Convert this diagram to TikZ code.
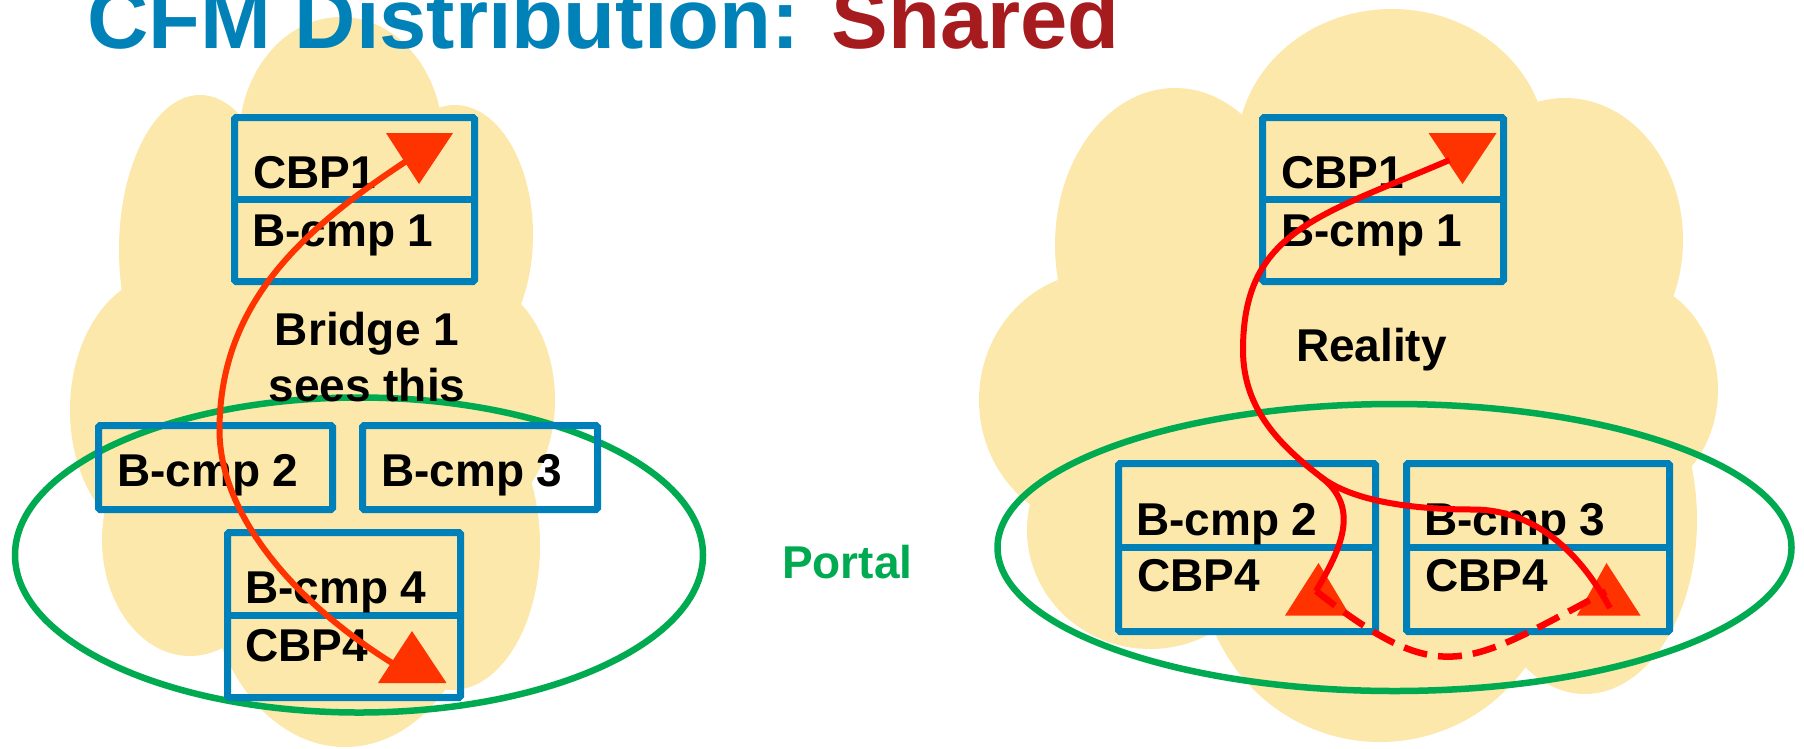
\documentclass[tikz,border=0pt]{standalone}
\usepackage{fontspec}
\setmainfont{Liberation Sans}
\usepackage{tikz}
\definecolor{cloudy}{RGB}{252, 232, 170}
\definecolor{boxblue}{RGB}{0, 128, 185}
\definecolor{titleblue}{RGB}{0, 130, 185}
\definecolor{titlered}{RGB}{166, 27, 30}
\definecolor{portalgreen}{RGB}{0, 170, 80}
\definecolor{triorange}{RGB}{255, 51, 0}
\definecolor{pathred}{RGB}{255, 0, 0}
\usetikzlibrary{shapes.geometric}

\begin{document}
\begin{tikzpicture}[every node/.style={inner sep=0pt, outer sep=0pt},
  cloudpart/.style={fill=cloudy},
  bx/.style={rectangle, draw=boxblue, line width=7pt, rounded corners=1.5pt},
  divider/.style={draw=boxblue, line width=7pt},
  lbl/.style={anchor=base west, font=\fontsize{46}{56}\selectfont\bfseries},
  portal/.style={ellipse, draw=portalgreen, line width=6.5pt},
  tri/.style={fill=triorange},
  orline/.style={draw=triorange, line width=6pt},
  redline/.style={draw=pathred, line width=6pt}]
\useasboundingbox (0pt, 0pt) rectangle (1804pt, -748pt);
\clip (0pt, 0pt) rectangle (1804pt, -748pt);
% left cloud
\fill[cloudpart] (341pt, -140pt) ellipse (102pt and 123pt);
\fill[cloudpart] (200pt, -250pt) ellipse (81pt and 155pt);
\fill[cloudpart] (165pt, -410pt) ellipse (95pt and 135pt);
\fill[cloudpart] (190pt, -540pt) ellipse (88pt and 116pt);
\fill[cloudpart] (345pt, -557pt) ellipse (140pt and 190pt);
\fill[cloudpart] (452pt, -545pt) ellipse (88pt and 145pt);
\fill[cloudpart] (470pt, -400pt) ellipse (85pt and 120pt);
\fill[cloudpart] (455pt, -235pt) ellipse (78pt and 130pt);
\fill[cloudpart] (200pt, -150pt) rectangle (470pt, -620pt);
% right cloud
\fill[cloudpart] (1392pt, -150pt) ellipse (155pt and 141pt);
\fill[cloudpart] (1175pt, -245pt) ellipse (120pt and 157pt);
\fill[cloudpart] (1100pt, -400pt) ellipse (121pt and 128pt);
\fill[cloudpart] (1150pt, -530pt) ellipse (123pt and 119pt);
\fill[cloudpart] (1380pt, -560pt) ellipse (180pt and 182pt);
\fill[cloudpart] (1585pt, -520pt) ellipse (112pt and 174pt);
\fill[cloudpart] (1620pt, -390pt) ellipse (98pt and 112pt);
\fill[cloudpart] (1565pt, -240pt) ellipse (118pt and 142pt);
\fill[cloudpart] (1150pt, -150pt) rectangle (1650pt, -620pt);
% title
\node (title) [anchor=base west, font=\fontsize{85}{100}\selectfont\bfseries] at (87pt, -48pt) {\textcolor{titleblue}{CFM Distribution:} \textcolor{titlered}{Shared}};
% portals
\node (portalL) [portal, minimum width=688pt, minimum height=315pt] at (359pt, -555pt) {};
\node (portalR) [portal, minimum width=794pt, minimum height=287pt] at (1394.5pt, -547.5pt) {};
\node (portal) [lbl, text=portalgreen] at (782pt, -578pt) {Portal};
% bridge 1 view
\node (cbl1) [bx, minimum width=240pt, minimum height=164pt] at (354.5pt, -199.5pt) {};
\node (cbl2) [bx, minimum width=234pt, minimum height=84pt] at (215.5pt, -467.5pt) {};
\node (cbl3) [bx, minimum width=235pt, minimum height=84pt] at (480pt, -467.5pt) {};
\node (cbl4) [bx, minimum width=233pt, minimum height=165pt] at (344pt, -615pt) {};
\draw[divider] (cbl1.west) -- (cbl1.east);
\draw[divider] (cbl4.west) -- (cbl4.east);
\node (tl1) [lbl] at (253pt, -188pt) {CBP1};
\node (tl2) [lbl] at (252pt, -246pt) {B-cmp 1};
\node (bridge) [anchor=base, align=center, font=\fontsize{46}{56}\selectfont\bfseries] at (367pt, -401pt) {Bridge 1\\sees this};
\node (tl3) [lbl] at (117pt, -486pt) {B-cmp 2};
\node (tl4) [lbl] at (381pt, -486pt) {B-cmp 3};
\node (tl5) [lbl] at (245pt, -603.5pt) {B-cmp 4};
\node (tl6) [lbl] at (245pt, -661pt) {CBP4};
% reality
\node (cbr1) [bx, minimum width=241pt, minimum height=164pt] at (1383pt, -199.5pt) {};
\node (cbr2) [bx, minimum width=257pt, minimum height=168pt] at (1247pt, -547.5pt) {};
\node (cbr3) [bx, minimum width=263pt, minimum height=168pt] at (1538pt, -547.5pt) {};
\draw[divider] (cbr1.west) -- (cbr1.east);
\draw[divider] (cbr2.west) -- (cbr2.east);
\draw[divider] (cbr3.west) -- (cbr3.east);
\node (tr1) [lbl] at (1281pt, -188pt) {CBP1};
\node (tr2) [lbl] at (1281pt, -246pt) {B-cmp 1};
\node (reality) [lbl] at (1296pt, -361pt) {Reality};
\node (tr3) [lbl] at (1136pt, -535pt) {B-cmp 2};
\node (tr4) [lbl] at (1137pt, -591.5pt) {CBP4};
\node (tr5) [lbl] at (1424pt, -535pt) {B-cmp 3};
\node (tr6) [lbl] at (1425pt, -591.5pt) {CBP4};
% triangles
\fill[tri] (386pt, -133pt) -- (453pt, -133pt) -- (419pt, -184pt) -- cycle;
\fill[tri] (378pt, -683pt) -- (446.5pt, -683pt) -- (412pt, -631pt) -- cycle;
\fill[tri] (1428.5pt, -133pt) -- (1496.5pt, -133pt) -- (1462.5pt, -184pt) -- cycle;
\fill[tri] (1285pt, -615.5pt) -- (1350pt, -615.5pt) -- (1318.5pt, -563pt) -- cycle;
\fill[tri] (1577pt, -615.5pt) -- (1640.5pt, -615.5pt) -- (1606.5pt, -563pt) -- cycle;
% paths
\coordinate (sL) at (408pt, -160pt);
\coordinate (mL) at (219.5pt, -430pt);
\coordinate (eL) at (397pt, -666pt);
\draw[orline] (sL) .. controls +(213.4:120pt) and +(90:130pt) .. (mL) .. controls +(270:85pt) and +(148.6:120pt) .. (eL);
\coordinate (sR) at (1449.5pt, -160pt);
\coordinate (lR) at (1243pt, -350pt);
\coordinate (jR) at (1321pt, -477pt);
\coordinate (hR) at (1473pt, -509.5pt);
\coordinate (eR3) at (1610pt, -608pt);
\coordinate (eR2) at (1316pt, -591pt);
\coordinate (dR3) at (1606pt, -591.5pt);
\draw[redline] (sR) .. controls +(203.3:140pt) and +(90:120pt) .. (lR) .. controls +(270:60pt) and +(142.3:50pt) .. (jR) .. controls +(-37.7:40pt) and +(180:60pt) .. (hR) .. controls +(0:70pt) and +(118.7:50pt) .. (eR3);
\draw[redline] (jR) .. controls +(-37.7:50pt) and +(59.3:50pt) .. (eR2);
\draw[redline, line width=6.5pt, dash pattern=on 24pt off 11pt] (eR2) .. controls +(-38:160pt) and +(208:160pt) .. (dR3);
\end{tikzpicture}
\end{document}
